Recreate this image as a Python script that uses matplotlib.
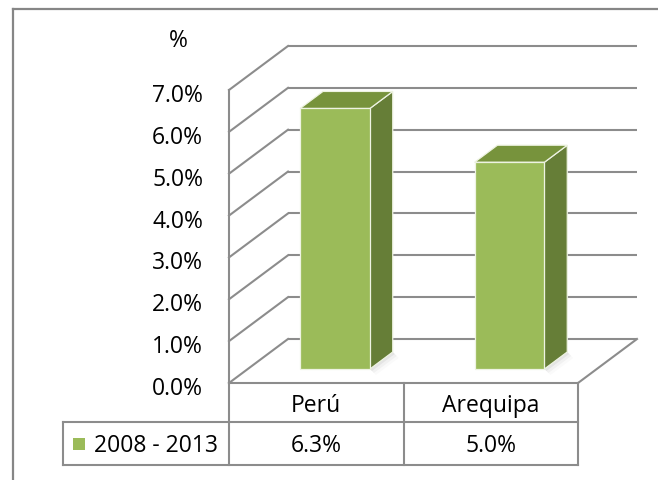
import matplotlib
matplotlib.use("Agg")
import matplotlib.pyplot as plt
from matplotlib.transforms import Affine2D, IdentityTransform
from matplotlib.patches import Polygon, Rectangle
from matplotlib.lines import Line2D
import numpy as np

# ---- data ----
categories = ["Perú", "Arequipa"]
values = [6.3, 5.0]
series_name = "2008 - 2013"
value_labels = ["6.3%", "5.0%"]
yticks = [0, 1, 2, 3, 4, 5, 6, 7]
ytick_labels = ["0.0%", "1.0%", "2.0%", "3.0%", "4.0%", "5.0%", "6.0%", "7.0%"]
axis_title = "%"

# ---- style ----
W, H = 658, 481
FONT = ["Open Sans", "DejaVu Sans"]
FS = 16.5
GRID = "#8C8C8C"
FRONT = "#9BBB59"
SIDE = "#667E37"
TOP = "#77933C"
DX, DY = 59, 44          # full depth offset of the 3-D box (pixels)
F1, F2 = 0.318, 0.705    # bar front / back depth fractions
BAR_W = 0.4
BAR_K = 0.988            # slight perspective shrink of the bar plane

plt.rcParams["font.family"] = FONT
fig = plt.figure(figsize=(W / 100, H / 100), dpi=100)
fig.patch.set_facecolor("white")
ax = fig.add_axes([229 / W, 1 - 384 / H, 349 / W, 293 / H])
ax.set_xlim(0, len(categories))
ax.set_ylim(0, 7)
ax.axis("off")

def depth_tf(f, k=1.0):
    y0 = ax.transData.transform((0, 0))[1]
    return ax.transData + Affine2D().translate(0, -y0).scale(1, k).translate(f * DX, y0 + f * DY)

def pt(x, y, f, k=1.0):
    return depth_tf(f, k).transform((x, y))

ID = IdentityTransform()

# outer frame
fig.add_artist(Line2D([13 / W, 1.0], [1 - 10 / H, 1 - 10 / H], transform=fig.transFigure,
                      color="#868686", lw=1.6))
fig.add_artist(Line2D([13 / W, 13 / W], [1 - 10 / H, 0], transform=fig.transFigure,
                      color="#868686", lw=1.6))

# walls and gridlines
back = depth_tf(1.0)
nx = len(categories)
for v in yticks:
    ax.plot([0, nx], [v, v], transform=back, color=GRID, lw=1.5, clip_on=False,
            solid_capstyle="butt")
    a, b = pt(0, v, 0), pt(0, v, 1)
    ax.plot([a[0], b[0]], [a[1], b[1]], transform=ID, color=GRID, lw=1.5, clip_on=False)
# left wall front edge
ax.plot([0, 0], [0, max(yticks)], color=GRID, lw=1.5, clip_on=False)
# floor front and right edges
ax.plot([0, nx], [0, 0], color=GRID, lw=1.5, clip_on=False)
a, b = pt(nx, 0, 0), pt(nx, 0, 1)
ax.plot([a[0], b[0]], [a[1], b[1]], transform=ID, color=GRID, lw=1.5, clip_on=False)

# bars
for i, v in enumerate(values):
    x0, x1 = i + 0.5 - BAR_W / 2, i + 0.5 + BAR_W / 2
    # shadow
    s = [pt(x1, 0, F1, BAR_K), pt(x1, 0, F2, BAR_K)]
    for j, al in enumerate([0.10, 0.07, 0.04]):
        o = 2 + 2 * j
        poly = [s[0], s[1], s[1] + np.array([o, -o]), s[0] + np.array([o, -o])]
        ax.add_patch(Polygon(poly, closed=True, transform=ID, facecolor="#808080",
                             edgecolor="none", alpha=al, clip_on=False, zorder=2))
    side = [pt(x1, 0, F1, BAR_K), pt(x1, v, F1, BAR_K), pt(x1, v, F2, BAR_K), pt(x1, 0, F2, BAR_K)]
    top = [pt(x0, v, F1, BAR_K), pt(x1, v, F1, BAR_K), pt(x1, v, F2, BAR_K), pt(x0, v, F2, BAR_K)]
    front = [pt(x0, 0, F1, BAR_K), pt(x1, 0, F1, BAR_K), pt(x1, v, F1, BAR_K), pt(x0, v, F1, BAR_K)]
    for poly, col in [(side, SIDE), (top, TOP), (front, FRONT)]:
        ax.add_patch(Polygon(poly, closed=True, transform=ID, facecolor=col,
                             edgecolor="#EEF3E2", lw=0.9, clip_on=False, zorder=3))

# y tick labels and axis title
lab_tf = ax.transData + Affine2D().translate(-26, -5)
for v, lab in zip(yticks, ytick_labels):
    ax.text(0, v, lab, transform=lab_tf, ha="right", va="center", fontsize=FS, color="black")
ax.text(178 / W, 1 - 41 / H, axis_title, transform=fig.transFigure, ha="center", va="center",
        fontsize=FS, color="black")

# data table
px_y = lambda p: -(p - 384) / 293 * 7  # pixel row -> data y (front plane)
row1_bot, row2_bot = px_y(423), px_y(466)
left_x = (63 - 229) / 349 * nx
tl = dict(color=GRID, lw=1.5, clip_on=False, solid_capstyle="projecting")
for c in range(nx + 1):
    ax.plot([c, c], [0, row2_bot], **tl)
ax.plot([left_x, left_x], [row1_bot, row2_bot], **tl)
ax.plot([left_x, nx], [row1_bot, row1_bot], **tl)
ax.plot([left_x, nx], [row2_bot, row2_bot], **tl)
txt_tf = ax.transData + Affine2D().translate(0, -2)
for i, (cat, vl) in enumerate(zip(categories, value_labels)):
    ax.text(i + 0.5, (0 + row1_bot) / 2, cat, transform=txt_tf, ha="center", va="center", fontsize=FS)
    ax.text(i + 0.5, (row1_bot + row2_bot) / 2, vl, transform=txt_tf, ha="center", va="center", fontsize=FS)
# legend key in table
ym = (row1_bot + row2_bot) / 2
kp = ax.transData.transform((left_x, ym))
ax.add_patch(Rectangle((kp[0] + 10, kp[1] - 6.5), 12, 12, transform=ID, facecolor=FRONT,
                       edgecolor="none", clip_on=False))
ax.text(kp[0] + 31, kp[1] - 2, series_name, transform=ID, ha="left", va="center", fontsize=FS)

fig.savefig("out.png", dpi=100, facecolor="white")
